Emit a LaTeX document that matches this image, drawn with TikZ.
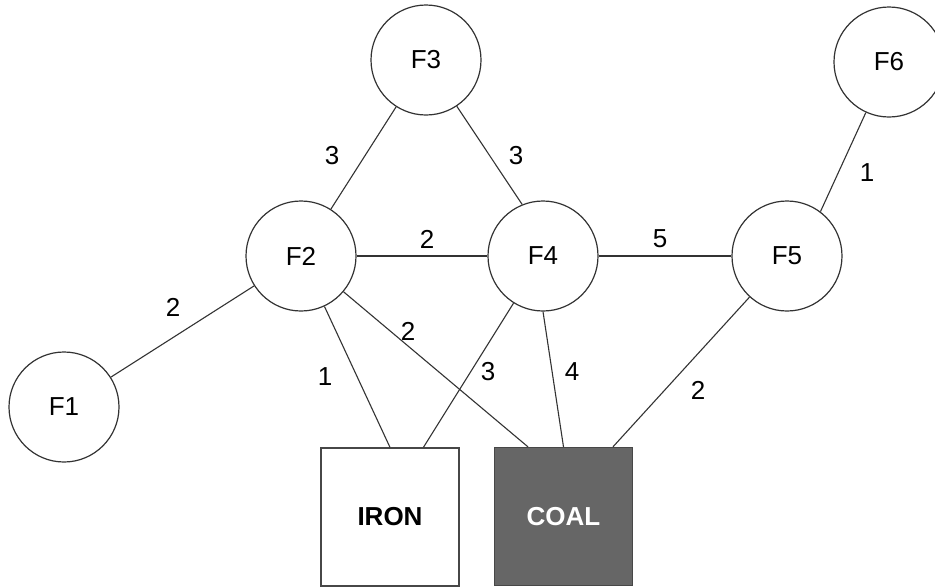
\documentclass[tikz,border=0pt]{standalone}
\usepackage{fontspec}
\setmainfont{Liberation Sans}
\usetikzlibrary{calc}
\definecolor{coalfill}{HTML}{666666}
\definecolor{linec}{HTML}{333333}
\begin{document}
\begin{tikzpicture}[x=1pt,y=-1pt,
  fnode/.style={circle,draw=linec,line width=1.2pt,fill=white,minimum size=110pt,inner sep=0pt,
    font=\fontsize{26}{30}\selectfont},
  mbox/.style={rectangle,draw=linec!90,line width=1.3pt,minimum width=138pt,minimum height=138pt,inner sep=0pt,
    font=\fontsize{26}{30}\selectfont\bfseries},
  wlabel/.style={inner sep=0pt,font=\fontsize{26}{30}\selectfont},
  edge/.style={draw=linec,line width=1.1pt}]
\useasboundingbox (0,0) rectangle (935,587);
\fill[white] (0,0) rectangle (935,587);
% nodes
\node[fnode] (F3) at (426,60) {F3};
\node[fnode] (F6) at (889,62) {F6};
\node[fnode] (F2) at (301,256) {F2};
\node[fnode] (F4) at (543,256) {F4};
\node[fnode] (F5) at (787,256) {F5};
\node[fnode] (F1) at (64,407) {F1};
\node[mbox,fill=white] (IRON) at (390,517) {IRON};
\node[mbox,fill=coalfill,text=white] (COAL) at (563.5,516.5) {COAL};
% attachment points on the boxes
\coordinate (IRONr) at ($(IRON.north west)!0.74!(IRON.north east)$);
\coordinate (COALl) at ($(COAL.north west)!0.245!(COAL.north east)$);
\coordinate (COALr) at ($(COAL.north west)!0.855!(COAL.north east)$);
% edges
\draw[edge] (F3) -- (F2);
\draw[edge] (F3) -- (F4.112);
\draw[edge] (F2) -- (F4);
\draw[edge] (F4) -- (F5);
\draw[edge] (F6) -- (F5.53);
\draw[edge] (F1) -- (F2);
\draw[edge] (F2) -- (IRON.north);
\draw[edge] (F4) -- (IRONr);
\draw[edge] (F2) -- (COALl);
\draw[edge] (F4.south) -- (COAL.north);
\draw[edge] (F5) -- (COALr);
% edge labels
\node[wlabel] (l23) at (332,156) {3};
\node[wlabel] (l34) at (516,156) {3};
\node[wlabel] (l24) at (427,239) {2};
\node[wlabel] (l45) at (660,239) {5};
\node[wlabel] (l56) at (867,173) {1};
\node[wlabel] (l12) at (173,307) {2};
\node[wlabel] (l2i) at (325,377) {1};
\node[wlabel] (l2c) at (408,331) {2};
\node[wlabel] (l4i) at (488,372) {3};
\node[wlabel] (l4c) at (572,372) {4};
\node[wlabel] (l5c) at (698,390) {2};
\end{tikzpicture}
\end{document}
